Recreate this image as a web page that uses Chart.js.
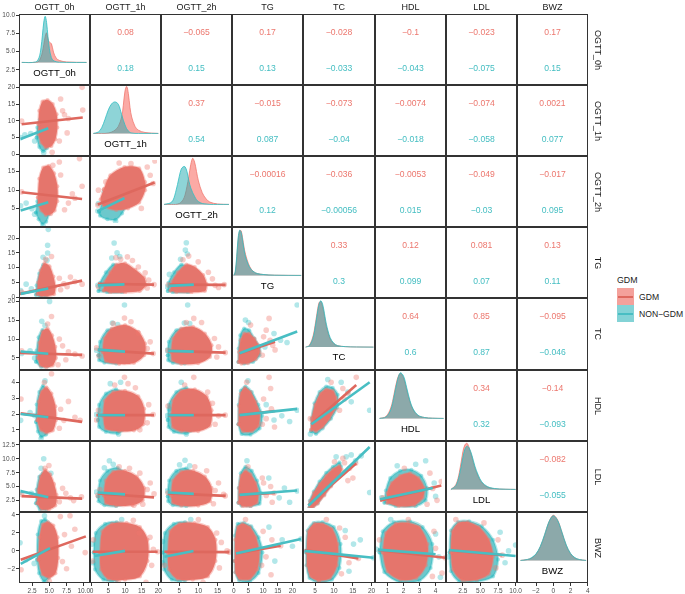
<!DOCTYPE html>
<html>
<head>
<meta charset="utf-8">
<script src="https://cdn.jsdelivr.net/npm/chart.js@4.4.0/dist/chart.umd.min.js"></script>
<style>
  body { margin:0; background:#fff; font-family:"Liberation Sans", Arial, sans-serif; }
  #page { position:relative; width:685px; height:594px; overflow:hidden; background:#fff; }
  .cell { position:absolute; z-index:1; }
  .frame { position:absolute; border:1px solid #333; box-sizing:border-box; z-index:3; }
  .txt { position:absolute; white-space:nowrap; transform:translate(-50%,-50%); z-index:4; line-height:1; }
  .strip { font-size:9px; color:#1a1a1a; }
  .vstrip { writing-mode:vertical-rl; }
  .diag { font-size:9.6px; color:#000; }
  .corr { font-size:8.6px; }
  .key { position:absolute; width:17px; height:17px; }
  .key i { position:absolute; left:1px; right:1px; top:7.5px; height:2px; }
</style>
</head>
<body>
<div id="page"></div>
<script>
// variables, axis ranges and tick labels
var vars = ['OGTT_0h', 'OGTT_1h', 'OGTT_2h', 'TG', 'TC', 'HDL', 'LDL', 'BWZ'];
var colMin = [0.6, -0.5, 0.2, -0.6, 1.8, 0.22, 0.1, -4.2];
var colMax = [10.9, 20.8, 18.8, 23.6, 20.9, 4.65, 10.2, 4.02];
var rowMin = [0.45, -0.5, 0.1, -0.3, 1.8, 0.29, 0.45, -3.58];
var rowMax = [10.15, 20.7, 19.1, 23.8, 20.9, 4.79, 13.2, 4.31];
var tickVals = [[2.5, 5, 7.5, 10], [0, 5, 10, 15, 20], [0, 5, 10, 15], [0, 5, 10, 15, 20],
                [5, 10, 15, 20], [1, 2, 3, 4], [2.5, 5, 7.5, 10, 12.5], [-2, 0, 2, 4]];
var tickDigits = [1, 0, 0, 0, 0, 0, 1, 0];

// correlations, upper triangle read row by row
var corrGDM = [0.08, -0.065, 0.17, -0.028, -0.1, -0.023, 0.17,
               0.37, -0.015, -0.073, -0.0074, -0.074, 0.0021,
               -0.00016, -0.036, -0.0053, -0.049, -0.017,
               0.33, 0.12, 0.081, 0.13,
               0.64, 0.85, -0.095,
               0.34, -0.14,
               -0.082];
var corrNON = [0.18, 0.15, 0.13, -0.033, -0.043, -0.075, 0.15,
               0.54, 0.087, -0.04, -0.018, -0.058, 0.077,
               0.12, -0.00056, 0.015, -0.03, 0.095,
               0.3, 0.099, 0.07, 0.11,
               0.6, 0.87, -0.046,
               0.32, -0.093,
               -0.055];

// density curves on the diagonal (relative heights)
var densX = [
  [1.0, 3.0, 3.5, 3.8, 4.0, 4.2, 4.4, 4.6, 4.8, 5.0, 5.3, 5.6, 6.0, 6.5, 7.5, 10.4],
  [0.5, 2, 3, 4, 5, 6, 7, 8, 9, 9.5, 10, 10.5, 11, 11.5, 12, 13, 14, 16, 20],
  [1, 3, 4, 5, 5.5, 6, 6.5, 7, 7.5, 8, 8.5, 9, 9.5, 10, 11, 12, 13, 15, 18],
  [0, 0.5, 1, 1.5, 2, 2.5, 3, 3.5, 4, 5, 6, 7, 8, 10, 14, 23],
  [2.5, 3.5, 4.5, 5, 5.5, 6, 6.5, 7, 7.5, 8, 9, 10, 11, 13, 16, 20.5],
  [0.5, 0.9, 1.2, 1.4, 1.6, 1.8, 2.0, 2.2, 2.4, 2.6, 2.9, 3.3, 3.8, 4.5],
  [0.8, 1.5, 2.0, 2.5, 2.8, 3.1, 3.4, 3.8, 4.2, 4.7, 5.2, 6, 7, 8.5, 10],
  [-3.8, -3, -2.5, -2, -1.5, -1, -0.5, 0, 0.5, 1, 1.5, 2, 2.5, 3, 3.8]
];
var densGDM = [
  [0, 0, 0.03, 0.12, 0.22, 0.38, 0.55, 0.63, 0.5, 0.43, 0.4, 0.22, 0.09, 0.04, 0.01, 0],
  [0, 0, 0, 0, 0.01, 0.03, 0.07, 0.15, 0.35, 0.6, 0.9, 1.0, 0.85, 0.55, 0.35, 0.15, 0.07, 0.02, 0],
  [0, 0, 0, 0.02, 0.05, 0.1, 0.2, 0.38, 0.6, 0.85, 0.98, 0.9, 0.7, 0.5, 0.25, 0.12, 0.05, 0.01, 0],
  [0, 0.06, 0.35, 0.75, 0.95, 0.95, 0.8, 0.6, 0.45, 0.25, 0.13, 0.07, 0.04, 0.02, 0.005, 0],
  [0, 0.04, 0.24, 0.45, 0.7, 0.92, 0.96, 0.85, 0.64, 0.43, 0.17, 0.07, 0.03, 0.01, 0.003, 0],
  [0, 0.04, 0.22, 0.5, 0.82, 0.96, 0.86, 0.6, 0.35, 0.18, 0.06, 0.02, 0.005, 0],
  [0, 0.1, 0.36, 0.8, 0.95, 0.98, 0.88, 0.68, 0.46, 0.27, 0.14, 0.05, 0.015, 0.004, 0],
  [0, 0.02, 0.05, 0.13, 0.29, 0.54, 0.82, 0.96, 0.86, 0.6, 0.32, 0.14, 0.05, 0.02, 0]
];
var densNON = [
  [0, 0.01, 0.1, 0.32, 0.58, 0.86, 0.98, 0.85, 0.55, 0.3, 0.1, 0.04, 0.015, 0.005, 0, 0],
  [0, 0.03, 0.12, 0.3, 0.5, 0.63, 0.67, 0.62, 0.4, 0.28, 0.18, 0.1, 0.05, 0.02, 0.01, 0, 0, 0, 0],
  [0, 0.05, 0.25, 0.6, 0.75, 0.8, 0.8, 0.7, 0.5, 0.35, 0.25, 0.17, 0.1, 0.06, 0.02, 0.01, 0, 0, 0],
  [0, 0.08, 0.4, 0.8, 0.96, 0.92, 0.75, 0.55, 0.4, 0.22, 0.12, 0.07, 0.04, 0.02, 0.005, 0],
  [0, 0.03, 0.2, 0.4, 0.65, 0.88, 0.97, 0.9, 0.7, 0.48, 0.2, 0.08, 0.03, 0.01, 0.003, 0],
  [0, 0.03, 0.18, 0.45, 0.78, 0.97, 0.9, 0.65, 0.38, 0.2, 0.07, 0.02, 0.005, 0],
  [0, 0.08, 0.3, 0.68, 0.86, 0.92, 0.88, 0.72, 0.5, 0.3, 0.16, 0.06, 0.02, 0.005, 0],
  [0, 0.02, 0.06, 0.14, 0.3, 0.55, 0.82, 0.95, 0.85, 0.6, 0.33, 0.15, 0.06, 0.02, 0]
];

// lower panels [row, col]: row = y variable, col = x variable
var lowerPanels = [[1,0],[2,0],[3,0],[4,0],[5,0],[6,0],[7,0],
                   [2,1],[3,1],[4,1],[5,1],[6,1],[7,1],
                   [3,2],[4,2],[5,2],[6,2],[7,2],
                   [4,3],[5,3],[6,3],[7,3],
                   [5,4],[6,4],[7,4],
                   [6,5],[7,5],
                   [7,6]];

// outline of the dense part of each scatter cloud [x, y]
var gdmHulls = [
  [[3.6,9],[3.7,13],[4.2,15.8],[5.0,16.2],[5.8,15],[6.4,12],[6.5,8],[6.2,4.5],[5.6,2.5],[4.7,2.0],[4.0,3.5],[3.6,6]],
  [[3.5,8],[3.7,13],[4.3,16],[5.2,16.5],[6.0,14.5],[6.5,11],[6.5,7],[6.1,4.5],[5.5,3.5],[4.7,3.3],[4.0,4.5],[3.6,6]],
  [[3.4,1],[3.5,5],[3.9,9],[4.5,11.5],[5.3,10.5],[5.9,7],[6.2,3.5],[6.0,1],[5.0,0.4],[4.0,0.4]],
  [[3.5,5],[3.7,9],[4.2,12],[5.0,12.8],[5.7,11],[6.2,8],[6.3,5],[5.8,3],[4.8,2.5],[3.9,3]],
  [[3.4,1.6],[3.6,2.8],[4.0,3.4],[4.8,3.7],[5.6,3.3],[6.2,2.5],[6.3,1.6],[5.8,0.95],[4.8,0.8],[3.9,1.0]],
  [[3.4,2],[3.5,4.5],[3.9,6.8],[4.6,8],[5.4,7.2],[6.0,5.5],[6.4,3.5],[6.2,1.6],[5.2,0.9],[4.0,1.0]],
  [[3.4,-1],[3.6,1.5],[4.0,2.9],[4.8,3.2],[5.6,2.8],[6.2,1.5],[6.3,-0.8],[5.9,-2.5],[5.0,-3.0],[4.0,-2.6]],
  [[2.8,10.3],[5,14.5],[9.8,17],[14.8,16.6],[16.8,12.5],[16.8,10],[14.8,6.3],[11,4.5],[7,4],[3,5],[1.7,7.2]],
  [[2.8,1],[3.2,4.5],[5,8],[7,11],[10,11.5],[13.5,9],[16.5,6],[17,3],[15,0.8],[10,0.3],[5,0.3]],
  [[2.4,6],[3,10],[5.5,13],[10,14],[14.5,12],[16.8,8.5],[16.5,5],[13,2.7],[8,2.4],[3.5,3.2]],
  [[2.6,1.8],[3.2,2.9],[6,3.5],[10,3.6],[14.5,3.2],[16.5,2.3],[16.2,1.2],[13,0.75],[8,0.7],[3.5,0.9]],
  [[2.8,3],[3.5,6],[6,7.8],[10,8],[14,6.8],[16.5,4.5],[16,2],[12.5,1],[7,0.9],[3.5,1.4]],
  [[2.5,0],[3.2,2.5],[6,3.4],[10.5,3.5],[14.5,3],[16.8,1.5],[16.8,-1],[14.5,-2.8],[10,-3.2],[5,-3.1],[2.8,-2]],
  [[1.8,1],[2.3,4.5],[4,8],[6.5,11],[9,10],[11.5,7],[12.5,3.5],[12,0.8],[8,0.3],[3.5,0.4]],
  [[2,6],[2.6,10],[5,13],[8.5,13.5],[12,11.5],[14,8],[13.5,4.5],[10,2.6],[5,2.4],[2.4,3.5]],
  [[2,1.8],[2.6,2.9],[5,3.6],[9,3.7],[12.5,3.2],[14,2.2],[13.5,1.1],[10,0.7],[5,0.7],[2.5,1.0]],
  [[2,3],[2.6,6],[5,7.8],[8.5,8],[12,6.8],[14,4.5],[13.5,1.8],[10,0.9],[5,0.9],[2.5,1.5]],
  [[2,0],[2.6,2.5],[5,3.4],[9,3.5],[12.5,3],[14.5,1.5],[14.5,-1],[12.5,-2.8],[8.5,-3.2],[4.5,-3.1],[2.3,-2]],
  [[0.4,3],[0.5,6],[1.2,9.5],[2.5,11.5],[4.5,11.5],[6.5,10],[8,8],[8.5,6],[7,3.8],[4,2.6],[1.5,2.5]],
  [[0.4,1.2],[0.5,2.5],[1.2,3.4],[2.8,3.8],[5,3.5],[7,2.8],[8.5,2],[8,1.1],[5.5,0.7],[2,0.7]],
  [[0.4,1.5],[0.5,4.5],[1.3,7],[3,8],[5,7.3],[7,5.5],[8,3.5],[7.5,1.5],[5,0.8],[2,0.8]],
  [[0.4,-1],[0.5,1.5],[1.3,3],[3,3.4],[5.5,3],[7.5,1.8],[8.7,0],[8,-2],[5.5,-3.1],[2,-3.1],[0.6,-2.3]],
  [[3,0.8],[3.2,1.6],[4.2,2.6],[5.8,3.4],[7.5,3.7],[9.5,3.6],[10.5,3.1],[10.2,2.3],[8.5,1.6],[6.5,1.0],[4.5,0.7]],
  [[2.6,0.6],[2.7,1.8],[3.8,3.5],[5.5,5.3],[7.5,7],[9.5,8.3],[11.5,9.0],[12.2,8.2],[11,6.5],[9,4.8],[7,3],[5,1.3],[3.5,0.5]],
  [[2.8,0],[3.2,2.5],[4.8,3.4],[7,3.4],[9.5,2.8],[11,1],[10.8,-1.5],[9,-3],[6,-3.3],[3.8,-2.8],[2.9,-1.5]],
  [[0.8,1.5],[0.8,3.5],[1.1,5.5],[1.7,7],[2.4,7.5],[3.0,6.5],[3.4,4.5],[3.3,2.5],[2.7,1.0],[1.6,0.8]],
  [[0.7,0],[0.9,2.3],[1.5,3.4],[2.3,3.5],[3.0,3],[3.5,1],[3.4,-1.5],[2.8,-3],[1.8,-3.2],[1.0,-2.2]],
  [[0.8,0],[1.0,2.5],[1.9,3.5],[3.2,3.6],[4.8,3],[6.2,1.5],[6.8,-0.5],[6.2,-2.5],[4.5,-3.2],[2.3,-3.2],[1.1,-2]]
];
var nonHulls = [
  [[3.3,5],[3.4,8],[3.8,10.5],[4.5,11.5],[5.1,10],[5.4,7],[5.3,4],[4.9,1.8],[4.3,0.9],[3.7,2.2]],
  [[3.2,4],[3.4,7],[3.9,9.3],[4.6,9.8],[5.2,8.5],[5.4,6],[5.2,3.5],[4.8,1.5],[4.2,0.9],[3.6,2.2]],
  [[3.2,0.8],[3.3,4],[3.7,8],[4.3,11],[4.9,10],[5.3,6],[5.3,2],[4.8,0.4],[3.8,0.3]],
  [[3.2,4],[3.3,7],[3.6,10.5],[4.2,12.5],[4.8,11.5],[5.3,8.5],[5.4,5],[5.0,2.8],[4.0,2.6]],
  [[3.2,1.5],[3.3,2.6],[3.7,3.4],[4.3,3.8],[5.0,3.3],[5.4,2.3],[5.3,1.3],[4.8,0.7],[4.0,0.55],[3.5,0.9]],
  [[3.2,2],[3.3,4.5],[3.7,6.8],[4.3,7.5],[4.9,6.8],[5.3,4.5],[5.3,2],[4.8,0.9],[3.8,0.9]],
  [[3.2,-1],[3.3,1.8],[3.8,3.3],[4.4,3.5],[5.0,3.0],[5.3,1],[5.3,-1.5],[4.9,-3.0],[4.2,-3.4],[3.5,-2.5]],
  [[1.2,3.5],[2.5,6.5],[5,8.5],[8.5,9.5],[10.8,8.8],[11,6.5],[9,3],[6.8,1.1],[4,1.2],[1.5,2.3]],
  [[1.0,0.8],[1.5,4],[3.5,8],[6,11],[9,10],[11,6],[11.5,2],[9,0.3],[4,0.3]],
  [[1,5],[1.5,9],[4,12.5],[7.5,13],[10.5,11],[11.2,7],[10.5,3.5],[7,2.5],[3,2.8],[1.2,3.5]],
  [[0.8,1.5],[1.2,2.6],[3.5,3.4],[7,3.7],[10.2,3.2],[11.2,2.2],[10.5,1.0],[7.5,0.55],[3.5,0.65],[1.2,1.0]],
  [[0.8,2.8],[1.5,6],[4,8],[7.5,8.6],[10.5,7],[11.5,4],[10.5,1.5],[7,0.8],[3,1],[1,1.8]],
  [[0.6,0],[1.2,2.3],[4,3.4],[7.5,3.6],[10.5,3],[11.3,0.5],[10.8,-2.2],[7.5,-3.3],[3.5,-3.2],[1,-2]],
  [[1.0,0.8],[1.2,4],[2.8,8],[5,11],[7.5,9.5],[9.2,5],[9.3,1.5],[7,0.3],[2.5,0.3]],
  [[1,5],[1.3,9],[3.5,12.5],[6.5,13],[9,11],[10,7],[9.5,3.5],[6,2.5],[2.5,2.7],[1.1,3.5]],
  [[1,1.5],[1.3,2.6],[3.5,3.5],[6.5,3.8],[9,3.2],[10,2.1],[9.5,1.0],[6.5,0.55],[2.8,0.65],[1.2,1.0]],
  [[1,2.8],[1.4,6],[3.5,8],[6.5,8.5],[9,7],[10,4],[9.5,1.5],[6.5,0.8],[2.5,1.0],[1.1,1.8]],
  [[0.7,0],[1.2,2.3],[3.5,3.4],[6.5,3.6],[9,3],[10,0.5],[9.5,-2.2],[6.5,-3.3],[3,-3.2],[1,-2]],
  [[0.3,3],[0.4,7],[1,11],[2.5,13],[4.5,12.5],[6.5,10],[8.5,7.5],[8.5,5],[6,3],[2.5,2.5]],
  [[0.3,1.2],[0.4,2.6],[1.2,3.6],[3,3.9],[5.5,3.5],[8,2.6],[9.5,1.8],[8.5,0.9],[5,0.45],[1.5,0.5]],
  [[0.3,1.5],[0.4,4.5],[1.2,7.5],[3,8.8],[5.5,8],[7.5,6],[9,3.5],[8.5,1.3],[5,0.8],[1.5,0.9]],
  [[0.3,-1],[0.4,2],[1.3,3.4],[3.5,3.5],[6,3.1],[8.5,1.8],[9.8,0],[8.5,-2.4],[5.5,-3.4],[1.8,-3.3],[0.5,-2.3]],
  [[3,0.7],[3.1,1.6],[4,2.7],[5.5,3.5],[7.5,3.9],[9.5,3.8],[11,3.3],[10.8,2.4],[9,1.6],[6.5,0.9],[4.5,0.5]],
  [[2.5,0.5],[2.6,1.9],[3.8,3.8],[5.5,5.8],[7.5,7.6],[9.5,8.8],[11.5,9.7],[12,8.8],[11,7],[9,5],[7,3.2],[5,1.4],[3.4,0.5]],
  [[2.6,0],[3,2.6],[4.6,3.5],[7,3.6],[10,3],[11.8,1],[11.5,-1.8],[9.5,-3.2],[6,-3.5],[3.5,-3],[2.7,-1.5]],
  [[0.6,1.5],[0.7,4],[1.0,6.5],[1.7,8],[2.5,8.2],[3.2,7],[3.6,4.5],[3.5,2],[2.8,0.8],[1.4,0.8]],
  [[0.5,0],[0.7,2.5],[1.4,3.6],[2.4,3.7],[3.2,3],[3.8,1],[3.7,-1.8],[3.0,-3.3],[1.8,-3.5],[0.8,-2.3]],
  [[0.6,0],[0.8,2.6],[1.8,3.6],[3.4,3.7],[5.2,3.1],[6.8,1.5],[7.5,-0.8],[6.8,-2.8],[4.5,-3.4],[2,-3.4],[0.8,-2.2]]
];

// scattered points outside the dense part [x, y]
var gdmDots = [
  [[10.3,20],[10.4,13.2],[8.2,10.7],[7.3,13],[8.0,6.4],[1.0,9.9],[7.0,16.5],[6.8,4],[5.7,0.6],[7.6,11.8]],
  [[9.9,18.4],[10.3,11],[8.2,6.5],[7.6,4.7],[5.8,16.6],[7.0,14],[8.8,9],[1.0,9.5],[6.8,17.5],[9.2,7.8]],
  [[6.8,6.4],[8.5,6.8],[9.2,5.3],[10.3,4.4],[5.6,13.8],[7.5,4.5],[7.0,2.5],[1.0,1.7],[4.7,12.8],[8.0,3.5]],
  [[5.6,16],[8.2,6.6],[10.3,5.5],[9.2,6],[1.0,6.9],[6.8,10],[7.3,8.2],[7.8,4.5],[5.0,14],[6.6,3.2]],
  [[5.6,4.55],[8.2,2.8],[10.0,1.6],[7.5,1.6],[0.9,2.95],[7.0,2.3],[9.2,1.8],[6.8,1.1],[4.5,4.0]],
  [[4.6,8.3],[7.3,4.7],[8.5,3.0],[10.2,3.2],[7.8,3.8],[6.8,2.3],[1.0,3.6],[9.0,2.5],[5.2,8.8]],
  [[6.6,3.8],[8.0,3.9],[8.7,2.4],[10.2,-0.2],[7.5,-2.0],[0.9,-2.1],[7.2,1.8],[6.9,-1.2],[8.2,0.5],[5.0,-3.4]],
  [[20.1,18.8],[18.5,14.5],[17.5,17],[12,18],[1.0,10],[19.5,12],[15.5,4.5],[8,18.2],[0.8,5.5],[3.5,12.5]],
  [[6.9,13.6],[10.8,13.9],[16.8,7.8],[19.8,3.3],[18,5],[12.5,12.5],[1.0,2.5],[8.5,13],[17.5,2],[14.5,10]],
  [[9.8,16.1],[14.5,11.6],[17.5,7],[0.3,7.2],[1.2,4.8],[19.5,5.5],[18.5,9],[12,15],[6,14.5]],
  [[9.8,4.55],[11,4.1],[13.5,3.8],[18,2.6],[19.5,1.9],[17.5,1.3],[0.3,1.5],[1,2.2],[15,0.8],[6.5,4.0]],
  [[17.5,4.2],[19.8,3.3],[8,8.8],[11.5,8.5],[18.5,5.5],[0.8,3],[1.5,4.2],[15,7.5],[13,1],[16,1.2]],
  [[14.3,2.3],[16.3,-3.5],[17.5,1.8],[18.5,0.4],[19.8,0.1],[12.5,3.8],[0.3,-1],[0.5,1.5],[18,-1.5],[8,-3.5]],
  [[7.2,14.2],[14.2,5.5],[17.7,3.3],[15,3],[10,12],[13,8],[16,2.2],[5.5,12.8],[1.2,3.2]],
  [[8.7,16],[14.8,10],[16,7.5],[18,5.8],[11,14.8],[1.1,6.5],[15.5,4.5],[6.5,14.8]],
  [[8.7,4.55],[14.2,2.7],[12.8,3.5],[16,1.8],[18,1.85],[1.1,2.5],[15,1.2],[6,4.0]],
  [[15,4],[17.5,3.2],[16,5.5],[9,8.8],[12.5,8],[1.1,3.5],[14.5,1.3],[18,2.9]],
  [[14.8,2.3],[11.2,-3.5],[16,1.2],[17.5,0.2],[18.1,0.05],[15.5,-1.8],[1.1,-1.5],[10,3.9]],
  [[12.1,16],[14.4,6.6],[12.5,9.5],[10,10.5],[9.5,5],[13.5,8],[11,12.5],[5,14]],
  [[12.1,4.55],[12.7,3.75],[14.2,1.0],[10,3],[11,1.6],[9.5,1.2],[13,2.3],[3.5,4.2]],
  [[12.7,4.8],[13.3,1.6],[10,5.5],[11,3],[9.5,6.5],[4,8.8],[14,3.5]],
  [[16,0.8],[12.7,-2.6],[10,2.5],[11,-0.5],[13,1.5],[9.5,-1.5],[4,3.9]],
  [[16.5,4.55],[12.5,3.75],[13,3.0],[11.5,2.2],[14,3.4],[9,4.2],[2.8,1.6]],
  [[16.3,9.5],[13,9.6],[14.5,8.5],[12.5,10.5],[15.5,6.5],[10,9.8],[14,6]],
  [[16.5,-0.7],[13,1.8],[14,-1.2],[12,-2.5],[11.5,2.9],[8,3.9],[6,-3.6]],
  [[4.6,5.8],[4.0,4.4],[3.8,7.5],[2.0,8.5],[0.5,2.5],[4.3,2.0],[3.6,1.2]],
  [[4.4,-2.4],[4.0,0.5],[3.9,2.5],[4.6,-0.6],[3.8,-2.8],[0.5,1.5],[2.3,3.9]],
  [[8.1,-0.3],[7.5,1.5],[7.2,-1.8],[2.6,-3.6],[1.5,3.9],[5.5,3.5]]
];
var nonDots = [
  [[0.85,5],[1.5,5.8],[2.4,6.2],[4.4,0.5],[3.0,4],[4.7,12.5]],
  [[0.85,5.8],[1.7,6.5],[2.6,5],[4.3,0.5],[3.0,3.5]],
  [[5.1,23],[5.0,17.6],[5.0,15],[4.9,12.5],[1.7,4.4],[0.85,2.2],[2.5,2.8],[4.3,13.5]],
  [[5.3,20],[4.1,14.7],[4.6,13.6],[1.0,6.2],[2.3,6.9],[3.0,5]],
  [[4.0,0.45],[0.85,1.6],[3.0,1.9],[4.6,4.1],[2.3,2.1]],
  [[4.4,10],[0.75,4.0],[2.5,3.8],[4.0,8.3],[5.5,7.4]],
  [[0.75,0.9],[1.6,-1.0],[2.8,-1.4],[4.5,-3.5],[4.3,3.9]],
  [[0.8,3.7],[6.8,0.6],[12,8.5],[3,9.5],[1.0,6]],
  [[6.3,19.2],[7.3,15.5],[5.5,13.5],[8.2,14],[0.8,3],[12,4]],
  [[9.8,20],[5.7,14.6],[7.5,14.2],[0.3,6.5],[11.8,9]],
  [[7.8,0.5],[5,4.1],[8.5,4.2],[0.3,1.9],[12,2]],
  [[4.7,10],[6,9.3],[0.3,3.7],[12.5,6.5],[3,8.6]],
  [[0.3,-1.2],[0.1,1],[6,-3.6],[9,3.9],[12,-1]],
  [[6.5,19.3],[6.2,16.5],[6.8,15],[1.5,7.2],[4.8,13],[0.8,2.5]],
  [[6.9,20],[5.9,14.6],[7.5,14.5],[0.8,6.5],[11,9]],
  [[6.5,0.5],[1.5,2.3],[5,4.2],[0.8,1.8],[10.8,2.5]],
  [[6.1,10.1],[4.5,9.2],[0.8,3.9],[11,5.5],[7.5,9]],
  [[0.5,-1.2],[0.6,1.3],[5,-3.6],[8,3.9],[11,-1]],
  [[22.9,20],[19,8.8],[4.2,14.8],[16.5,9.5],[10.5,7.5],[3,15.5],[14,11.5]],
  [[20,1.4],[22.9,2.2],[17,1.8],[4,4.3],[11,2.6],[14,1.5]],
  [[3.6,10],[20,1.6],[22.9,3.9],[16,2.5],[12,6.5],[18,4.5]],
  [[20,0.75],[22.9,1.6],[16.5,1.5],[12,3],[14,-1],[3,-3.7]],
  [[20.5,2.2],[14,3.5],[12,4.2],[15,2.8],[2.8,0.5],[8,4.4]],
  [[20.5,3.6],[16.3,10],[13.5,10.8],[15,11.2],[18,11],[10.5,10.8]],
  [[15.2,1.0],[20.5,-0.6],[17,1.5],[14,-2.2],[5,-3.8],[13,2.6]],
  [[3.5,10],[2.8,9.3],[0.4,2.5],[4.1,5.5],[4.2,2.8],[1.5,9.0]],
  [[4.2,-0.5],[0.3,0.4],[4.0,2.2],[4.3,-2.9],[2.0,-3.8],[1.2,3.9]],
  [[10,0.9],[8.5,-1.2],[9,0.2],[0.4,-0.5],[7.8,2.4],[3.5,-3.7]]
];

// linear fits [x1, y1, x2, y2]
var gdmLines = [
  [1.0,9.0,10.4,11.0],[1.0,9.4,10.3,7.6],[0.7,1.1,10.3,5.6],[0.75,6.3,10.3,5.8],[0.85,2.04,10.3,1.5],[1.0,3.3,10.3,2.85],[0.85,-1.0,10.3,1.6],
  [0.8,5.7,20,12.3],[0.8,3.6,19.8,3.3],[0.8,6.6,19.8,5.5],[0.3,1.85,19.8,1.85],[0.8,3.4,19.8,2.6],[0.3,0.1,19.8,0.1],
  [1.5,3.3,18.1,3.2],[1.1,6.3,18.1,5.8],[1.1,1.85,18.1,1.85],[1.1,3.4,18.1,2.9],[1.1,0.1,18.1,0.05],
  [0.76,5.5,14.4,9.0],[0.76,1.85,14.4,2.15],[0.76,3.1,14.4,3.5],[0.76,-0.1,16,0.8],
  [3.1,1.2,16.5,4.0],[2.2,1.0,16.5,9.5],[2.2,0.3,16.5,-0.7],
  [0.3,1.9,4.6,5.0],[0.4,0.3,4.6,-0.6],
  [0.9,0.25,8.1,-0.3]
];
var nonLines = [
  [0.85,4.6,5.1,7.8],[0.85,4.5,5.1,6.7],[0.85,1.1,5.1,2.9],[0.85,6.7,5.1,6.1],[0.85,2.0,5.1,1.8],[0.85,4.2,5.1,3.1],[0.85,-1.45,5.1,0.3],
  [0.6,3.6,9.8,7.6],[0.8,3.0,9.8,3.4],[0.8,6.7,10,6.1],[0.8,1.85,10,1.85],[0.8,3.6,10,3.2],[0.8,-0.4,10,0.2],
  [1.5,2.8,8.7,3.3],[1.1,6.3,8.7,6.1],[1.1,1.85,8.7,1.85],[1.1,3.6,8.7,3.3],[1.1,-0.5,8.7,0.2],
  [0.76,5.6,22.9,12.1],[0.76,1.85,22.9,2.3],[0.76,3.1,22.9,4.0],[0.76,-0.1,22.9,1.6],
  [3.1,1.2,20.5,4.2],[2.2,0.9,20.5,12.8],[2.2,0.2,20.5,-0.6],
  [0.3,2.2,4.0,4.5],[0.4,0.35,4.0,-0.2],
  [0.5,0.3,10,-0.4]
];

var RED_CORE = 'rgb(229,117,108)', RED_EDGE = 'rgba(240,118,108,0.38)', RED_LINE = 'rgb(222,104,94)';
var TEAL_CORE = 'rgb(108,200,204)', TEAL_EDGE = 'rgba(30,184,190,0.34)', TEAL_LINE = 'rgb(72,190,195)';

var page = document.getElementById('page');
var X0 = 19, Y0 = 14, S = 71.1;
function px(c) { return Math.round(X0 + c * S); }
function py(r) { return Math.round(Y0 + r * S); }

function fmt(v, d) {
  return v.toFixed(d).replace('-', '\u2212');
}

function axisOpts(i, isX) {
  return {
    grid: { display: true, drawOnChartArea: false, drawTicks: true, tickLength: 3, color: '#333', lineWidth: 1 },
    border: { display: false },
    ticks: {
      font: { size: 6.5, family: 'Liberation Sans' }, color: '#4d4d4d', padding: 1,
      maxRotation: 0, autoSkip: false,
      callback: function (v) { return fmt(v, tickDigits[i]); }
    },
    afterBuildTicks: function (s) {
      s.ticks = tickVals[i].filter(function (v) { return v >= s.min - 1e-9 && v <= s.max + 1e-9; })
        .map(function (v) { return { value: v }; });
    },
    afterFit: function (s) {
      // hidden axes must keep zero size
      if (!s.options.display) return;
      if (isX) s.height = 12; else s.width = 19;
      s.paddingLeft = 0; s.paddingRight = 0; s.paddingTop = 0; s.paddingBottom = 0;
    }
  };
}

function pts(arr) { return arr.map(function (p) { return { x: p[0], y: p[1] }; }); }

function hullDs(h, core, edge) {
  return { data: pts(h.concat([h[0]])), fill: 'shape', backgroundColor: core, borderColor: edge,
    borderWidth: 2.2, pointRadius: 2, pointBackgroundColor: edge, pointBorderWidth: 0, tension: 0.3, clip: 0 };
}
function dotsDs(d, col) {
  return { data: pts(d), showLine: false, pointRadius: 2.8, pointBackgroundColor: col, pointBorderWidth: 0, clip: 0 };
}
function lineDs(l, col) {
  return { data: [{ x: l[0], y: l[1] }, { x: l[2], y: l[3] }], borderColor: col, borderWidth: 2.6,
    pointRadius: 0, fill: false, tension: 0, clip: 0 };
}
function densDs(k, ys, fillCol, lineCol) {
  return { data: densX[k].map(function (x, j) { return { x: x, y: ys[j] }; }), fill: 'origin',
    backgroundColor: fillCol, borderColor: lineCol, borderWidth: 0.8, pointRadius: 0, tension: 0.35, clip: 0 };
}

function makePanel(r, c, datasets, diag) {
  var left = px(c), top = py(r), w = px(c + 1) - left, h = py(r + 1) - top;
  var showX = r === 7, showY = c === 0;
  var m = { l: showY ? 19 : (showX ? 8 : 0), r: showX ? 8 : 0, t: showY ? 6 : 0, b: showX ? 12 : (showY ? 6 : 0) };
  var pad = { left: showY ? 0 : m.l, right: m.r, top: m.t, bottom: showX ? 0 : m.b };
  var div = document.createElement('div');
  div.className = 'cell';
  div.style.left = (left - m.l) + 'px';
  div.style.top = (top - m.t) + 'px';
  var cv = document.createElement('canvas');
  cv.width = w + m.l + m.r; cv.height = h + m.t + m.b;
  cv.style.width = cv.width + 'px'; cv.style.height = cv.height + 'px';
  div.appendChild(cv);
  page.appendChild(div);

  var scales = {
    x: Object.assign({ type: 'linear', min: colMin[c], max: colMax[c], display: showX }, axisOpts(c, true)),
    y: Object.assign({ type: 'linear', min: diag ? -0.48 : rowMin[r], max: diag ? 1.03 : rowMax[r],
      display: showY && !diag }, axisOpts(r, false))
  };
  if (diag && showY) {
    scales.yt = Object.assign({ type: 'linear', position: 'left', min: rowMin[r], max: rowMax[r], display: true },
      axisOpts(r, false));
  }
  new Chart(cv, {
    type: 'line',
    data: { datasets: datasets },
    options: {
      responsive: false, animation: false, events: [],
      layout: { padding: pad },
      plugins: { legend: { display: false }, tooltip: { enabled: false } },
      scales: scales
    }
  });
}

function addText(txt, x, y, cls, color) {
  var d = document.createElement('div');
  d.className = 'txt ' + cls;
  d.textContent = txt;
  d.style.left = x + 'px'; d.style.top = y + 'px';
  if (color) d.style.color = color;
  page.appendChild(d);
  return d;
}

// scatter panels
lowerPanels.forEach(function (p, i) {
  makePanel(p[0], p[1], [
    lineDs(nonLines[i], TEAL_LINE),
    lineDs(gdmLines[i], RED_LINE),
    dotsDs(gdmDots[i], RED_EDGE),
    hullDs(gdmHulls[i], RED_CORE, RED_EDGE),
    dotsDs(nonDots[i], TEAL_EDGE),
    hullDs(nonHulls[i], TEAL_CORE, TEAL_EDGE)
  ], false);
});

// diagonal densities
for (var k = 0; k < 8; k++) {
  makePanel(k, k, [
    densDs(k, densNON[k], 'rgba(30,170,175,0.5)', '#2FBEC2'),
    densDs(k, densGDM[k], 'rgba(248,118,109,0.62)', '#F0776E')
  ], true);
  addText(vars[k], (px(k) + px(k + 1)) / 2, py(k) + 0.83 * S, 'diag');
}

// correlation text
var n = 0;
for (var r = 0; r < 7; r++) {
  for (var c = r + 1; c < 8; c++) {
    var cx = (px(c) + px(c + 1)) / 2;
    addText(fmt(corrGDM[n], String(Math.abs(corrGDM[n])).split('.')[1].length), cx, py(r) + 0.25 * S, 'corr', '#EC776E');
    addText(fmt(corrNON[n], String(Math.abs(corrNON[n])).split('.')[1].length), cx, py(r) + 0.755 * S, 'corr', '#45BEC2');
    n++;
  }
}

// frames
for (var r2 = 0; r2 < 8; r2++) {
  for (var c2 = 0; c2 < 8; c2++) {
    var f = document.createElement('div');
    f.className = 'frame';
    f.style.left = px(c2) + 'px'; f.style.top = py(r2) + 'px';
    f.style.width = (px(c2 + 1) - px(c2)) + 'px'; f.style.height = (py(r2 + 1) - py(r2)) + 'px';
    page.appendChild(f);
  }
}

// strips
for (var s = 0; s < 8; s++) {
  addText(vars[s], (px(s) + px(s + 1)) / 2, 7, 'strip');
  addText(vars[s], 597, (py(s) + py(s + 1)) / 2, 'strip vstrip');
}

// legend
var lt = addText('GDM', 617, 280, 'strip');
lt.style.transform = 'translate(0,-50%)'; lt.style.fontSize = '8.8px';
[['GDM', 'rgba(240,130,122,0.75)', RED_LINE, 288], ['NON\u2212GDM', 'rgba(90,196,200,0.75)', TEAL_LINE, 305]].forEach(function (g) {
  var key = document.createElement('div');
  key.className = 'key';
  key.style.left = '617px'; key.style.top = g[3] + 'px'; key.style.background = g[1];
  var ln = document.createElement('i'); ln.style.background = g[2];
  key.appendChild(ln);
  page.appendChild(key);
  var t = addText(g[0], 639, g[3] + 8.5, 'strip');
  t.style.transform = 'translate(0,-50%)'; t.style.fontSize = '8.6px';
});
</script>
</body>
</html>
